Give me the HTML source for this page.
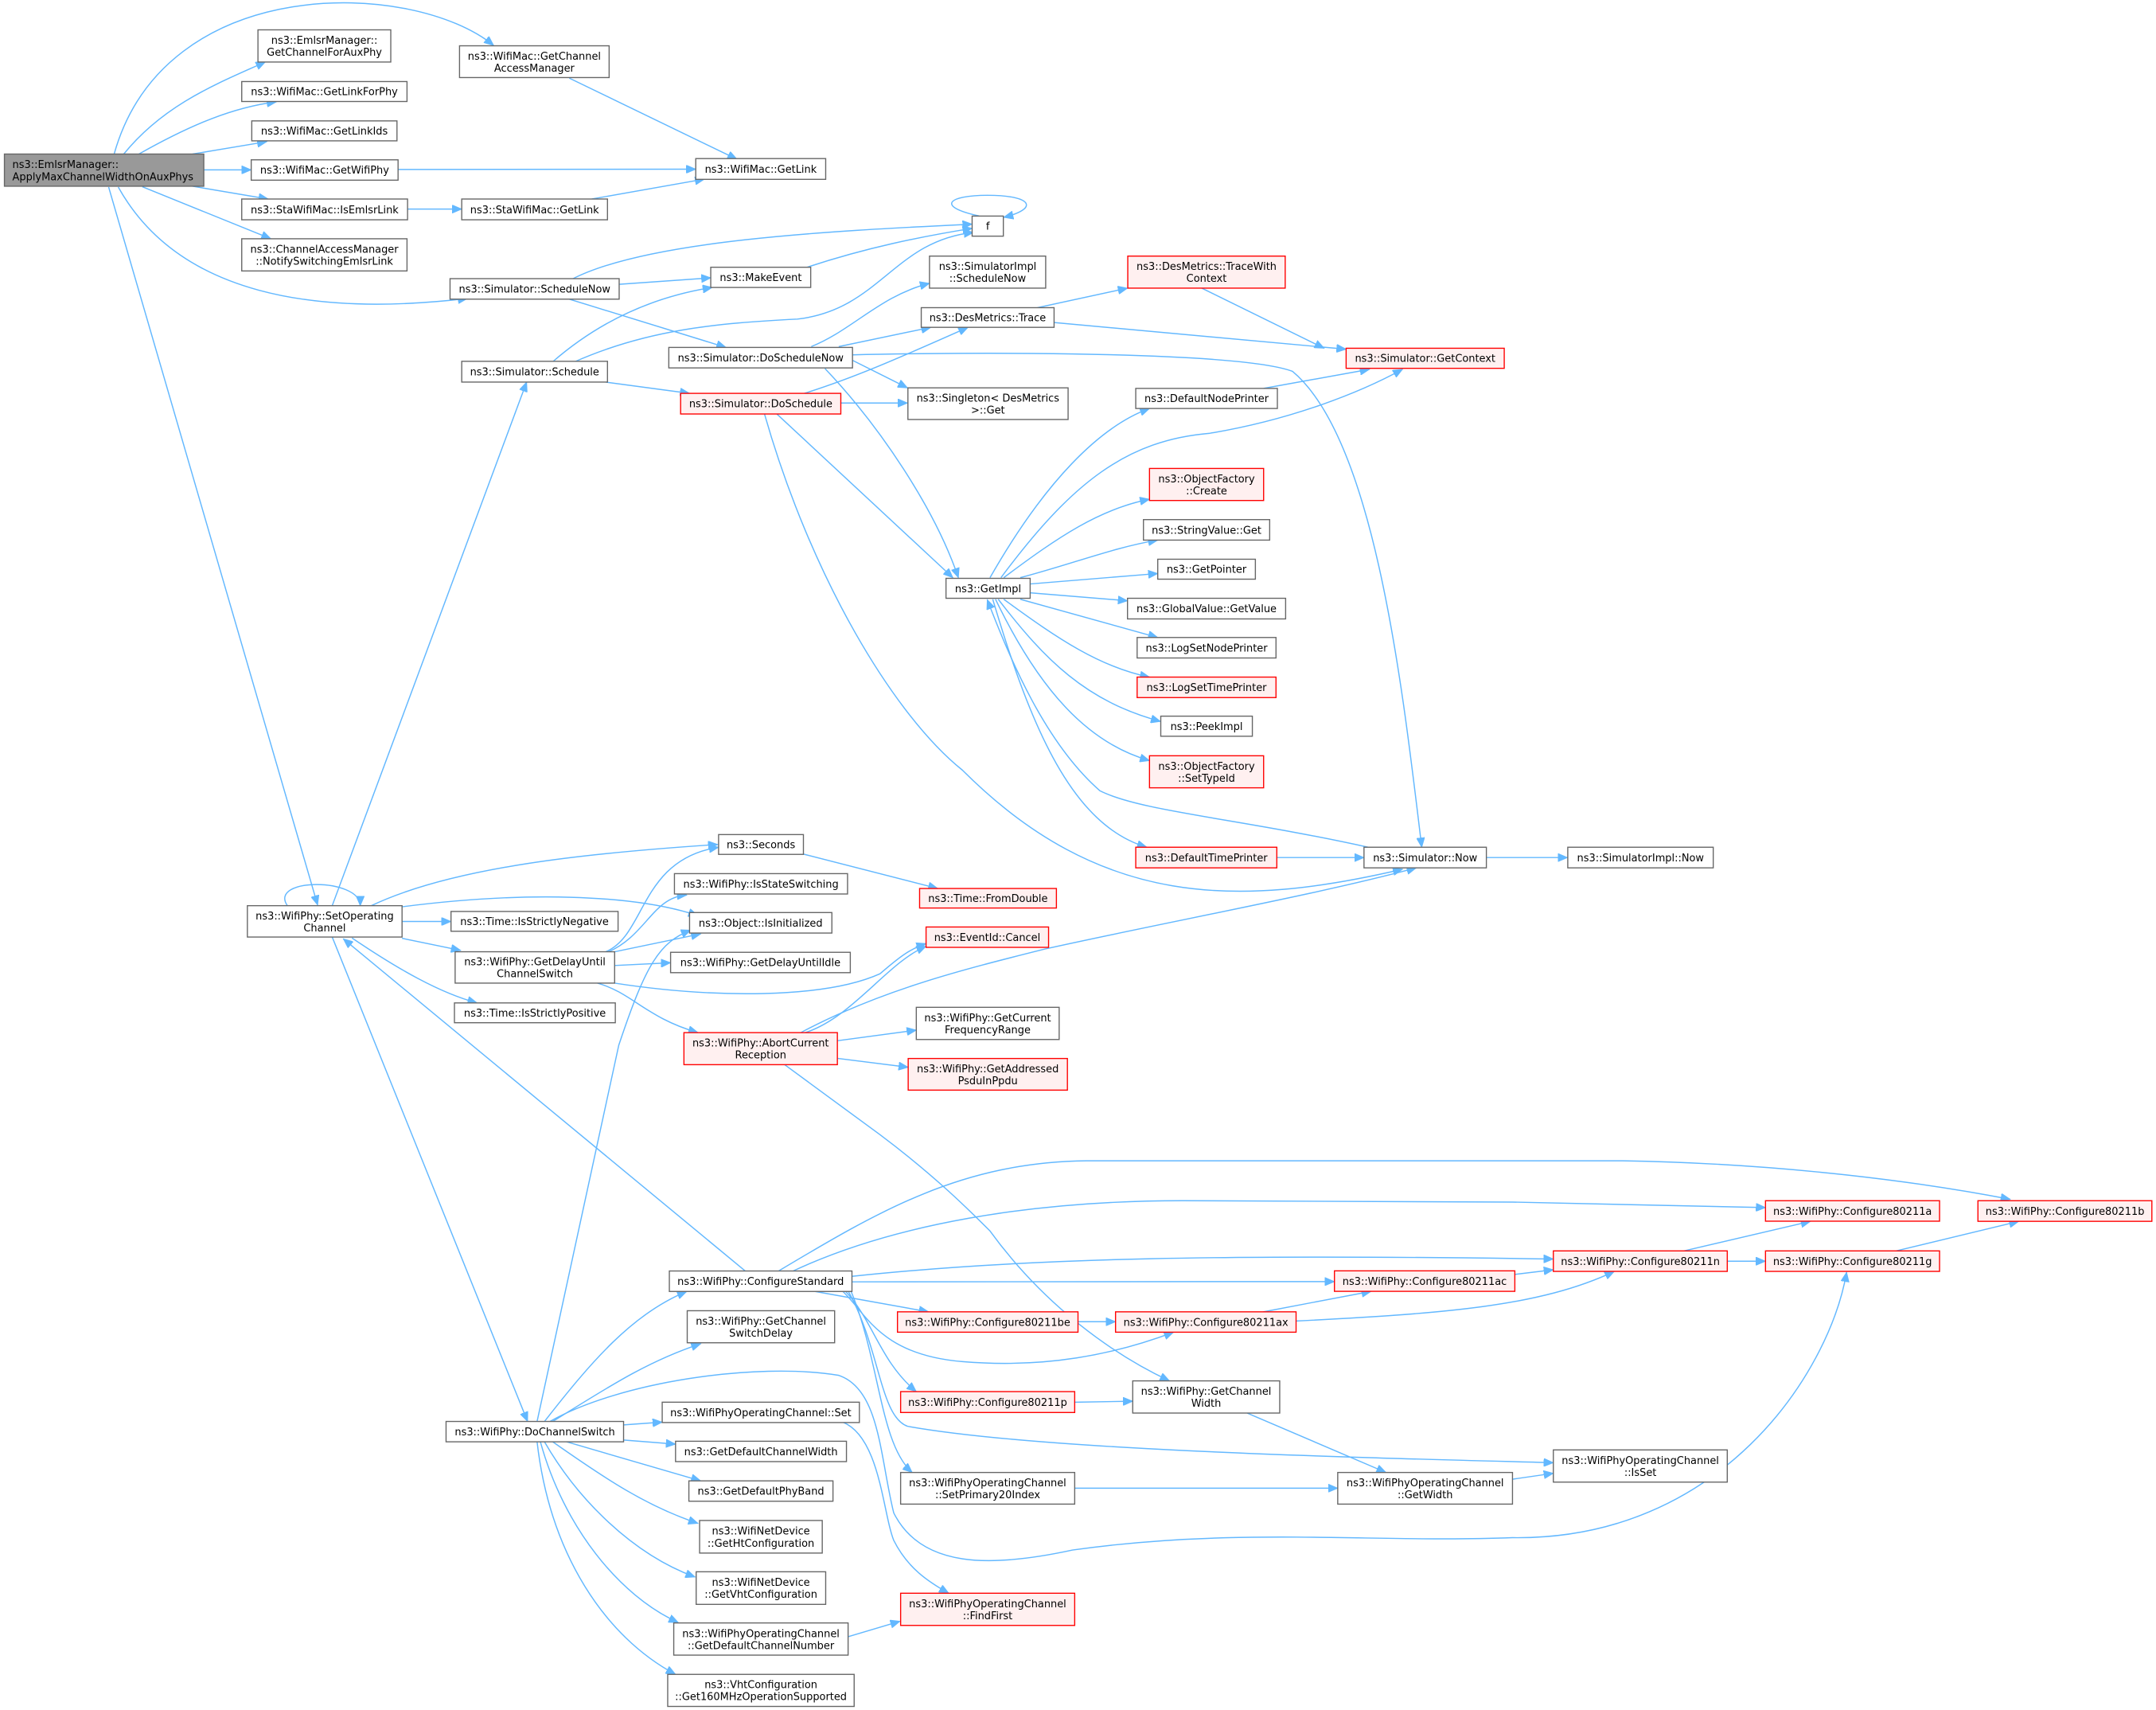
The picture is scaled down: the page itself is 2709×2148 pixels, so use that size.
<!DOCTYPE html>
<html><head><meta charset="utf-8"><style>
html,body{margin:0;padding:0;background:#fff;}
svg{display:block;}
text{font-family:"DejaVu Sans","Liberation Sans",sans-serif;font-size:7.5px;fill:#000;text-anchor:middle;}
.n{fill:#fff;stroke:#666;stroke-width:0.8;}
.r{fill:#fff0f0;stroke:#f00;stroke-width:0.8;}
.g{fill:#999;stroke:#666;stroke-width:0.8;}
path{fill:none;stroke:#63b8ff;stroke-width:0.85;marker-end:url(#a);}
</style></head><body>
<svg width="2709" height="2148" viewBox="0 0 1568 1243.3" xmlns="http://www.w3.org/2000/svg">
<defs><marker id="a" markerUnits="userSpaceOnUse" markerWidth="8" markerHeight="6" refX="7" refY="3" orient="auto"><path d="M0,0 L7,3 L0,6 z" style="fill:#63b8ff;stroke:#63b8ff;stroke-width:0.5;marker-end:none"/></marker></defs>

<!-- edges top -->
<path d="M83,112 C120,-20 300,-15 359,33"/>
<path d="M90,112 C120,75 160,60 193,45"/>
<path d="M101,112 C140,90 170,78 201,74"/>
<path d="M140,112 L194,103"/>
<path d="M148,123.5 L182.7,123.5"/>
<path d="M140,135.4 L195,144.7"/>
<path d="M103.5,135.8 L197,173.6"/>
<path d="M86,136 C130,215 230,230 340,217"/>
<path d="M79,136 L231,658"/>
<path d="M414,56.8 L536,115.8"/>
<path d="M289.5,123.2 L506,123"/>
<path d="M296.4,152 L335.8,152"/>
<path d="M430.4,144.7 L512.4,130.2"/>
<path d="M450.3,206.7 L517,202"/>
<path d="M416,203 C470,175 600,168 707,163"/>
<path d="M587,194.3 C630,180 670,172 707,166"/>
<path d="M414,217.5 L528,252.6"/>
<path d="M402,263 C440,230 480,215 518,209"/>
<path d="M418,263 C470,240 520,235 580,232 C640,225 650,175 708,169"/>
<path d="M440.5,277.8 L501.5,286"/>
<path d="M590,252 C620,240 640,215 676,206"/>
<path d="M610,252 L677,238"/>
<path d="M620,262 L660,282"/>
<path d="M600,268 C640,310 680,370 697,420"/>
<path d="M620,258 C700,256 900,255 940,270 C1000,320 1020,500 1034,616"/>
<path d="M585,286 C620,275 650,262 704,238"/>
<path d="M611,293 L660,293"/>
<path d="M565,301 L693,420"/>
<path d="M556,301 C590,420 650,520 700,560 C800,660 900,660 1020,632"/>
<path d="M712,157 C680,150 690,142 718,142 C752,142 755,152 730,158"/>
<path d="M874,209.5 L963,253.2"/>
<path d="M754.5,223.7 L820,209.5"/>
<path d="M766.6,234.5 L979,253.9"/>
<path d="M919,282.4 L996,268.5"/>
<path d="M728,420 C780,350 820,320 880,315 C940,305 990,285 1020,268.5"/>
<path d="M720,420 C760,350 800,310 836,297"/>
<path d="M730,420 C770,390 800,370 836,363"/>
<path d="M742,420 C780,410 810,398 842,392.7"/>
<path d="M749,424.6 L842,417"/>
<path d="M749,431 L820,436.8"/>
<path d="M742,435.7 L842,463.5"/>
<path d="M730,435.7 C770,465 800,485 836,492.3"/>
<path d="M726,435.7 C760,480 790,510 844,524.5"/>
<path d="M724,435.7 C755,500 790,540 836,553"/>
<path d="M722,435.7 C750,530 780,600 834,616"/>
<path d="M995,616 C900,595 830,590 800,575 C760,540 735,480 718,436"/>
<path d="M928.6,623.5 L992,623.5"/>
<path d="M1081,623.5 L1140,623.5"/>
<path d="M584.3,621 L682,646"/>

<!-- edges left-bottom -->
<path d="M209,658.5 C195,638 262,638 262,658.5"/>
<path d="M270,658.5 C330,630 430,620 522,614"/>
<path d="M292.4,659.3 C380,648 460,650 507.6,665.7"/>
<path d="M292.4,670 L328,670"/>
<path d="M292.4,682.2 L335,691"/>
<path d="M256,682 C290,705 320,722 347,729.2"/>
<path d="M241.6,658.5 L383,277.8"/>
<path d="M241.6,681.3 L383.7,1033.5"/>
<path d="M542,924.1 L249.7,682.6"/>
<path d="M440.5,692 C470,680 465,625 522.6,616"/>
<path d="M442.6,692 C470,680 475,652 499.4,650.8"/>
<path d="M447,692 L509.6,679"/>
<path d="M447,702 L487.7,700"/>
<path d="M447,714.8 C520,726 600,726 640,708 C655,695 662,690 673.5,686"/>
<path d="M434.5,714.8 C460,722 470,740 507.6,750.8"/>
<path d="M585,751 C620,740 645,700 673.5,688"/>
<path d="M582,751 C640,720 700,705 760,690 C850,670 960,650 1030,631"/>
<path d="M609,756.7 L666.4,749"/>
<path d="M609,769.5 L660.5,776"/>
<path d="M570.5,774 L640,825 C680,855 705,880 720,895 C760,950 810,985 850.5,1004"/>
<path d="M390.6,1033.5 L450,760 C470,700 480,685 502.3,676.3"/>
<path d="M396,1033.5 C430,990 460,955 499.4,939"/>
<path d="M402,1033.5 C440,1010 470,990 509.6,977"/>
<path d="M453.5,1036 L481.6,1034"/>
<path d="M453.5,1047 L491.3,1050"/>
<path d="M412,1048.3 L509.6,1076.7"/>
<path d="M402,1048.3 C440,1075 470,1095 507.6,1107.6"/>
<path d="M396,1048.3 C420,1090 460,1130 505.5,1146.6"/>
<path d="M393,1048.3 C410,1110 450,1160 493.3,1179.7"/>
<path d="M390.6,1048.3 C400,1130 440,1190 491.3,1217.4"/>
<path d="M400,1033.5 C450,1005 550,990 610,1000 C640,1010 640,1060 650,1100 C670,1140 720,1140 780,1127 C900,1110 1000,1122 1100,1118 C1250,1120 1330,1000 1343,925"/>
<path d="M613,1034 C640,1045 642,1100 650,1120 C660,1140 675,1150 690,1158.4"/>
<path d="M616.8,1190 L654.5,1178.8"/>

<!-- edges configure -->
<path d="M566.4,924 C640,880 700,845 790,844 L1180,844 C1300,846 1400,860 1462,872"/>
<path d="M577,924 C650,890 750,873 860,873 L1100,874 C1200,876 1250,877 1284,878"/>
<path d="M619.6,928 C750,914 900,912 1129.7,915.4"/>
<path d="M619.6,932 L970.5,931.8"/>
<path d="M592.8,939 L675.3,953.8"/>
<path d="M613,939 C630,955 640,985 700,990 C760,995 810,985 853.5,968.6"/>
<path d="M615,939 C635,960 640,990 666.4,1011.8"/>
<path d="M617,939 C640,980 640,1030 660,1037 C760,1055 1000,1060 1129.7,1063.5"/>
<path d="M619,939 C640,990 640,1050 663.4,1070.6"/>
<path d="M784,961 L811.3,961"/>
<path d="M918.8,953.8 L997.2,938.9"/>
<path d="M942.6,960.5 C1050,955 1120,950 1174,924.4"/>
<path d="M1101.7,926.6 L1129.7,923.2"/>
<path d="M1224.7,909.5 L1316.7,888"/>
<path d="M1256.2,917 L1284,917"/>
<path d="M1379,909.5 L1468.2,888"/>
<path d="M781.6,1019.5 L823.8,1018.8"/>
<path d="M907,1027.4 L1008,1070.6"/>
<path d="M781.6,1082 L972.9,1082"/>
<path d="M1100,1075.5 L1129.7,1071.2"/>

<!-- nodes -->
<rect class="g" x="3.2" y="112" width="145" height="23.4"/>
<text x="9" y="122" style="text-anchor:start">ns3::EmlsrManager::</text>
<text x="9" y="131" style="text-anchor:start">ApplyMaxChannelWidthOnAuxPhys</text>

<rect class="n" x="187.6" y="21.7" width="96.6" height="23.4"/><text x="235.9" y="31.9">ns3::EmlsrManager::</text><text x="235.9" y="40.6">GetChannelForAuxPhy</text>
<rect class="n" x="175.8" y="59.3" width="120.2" height="14.5"/><text x="235.9" y="69.3">ns3::WifiMac::GetLinkForPhy</text>
<rect class="n" x="183.1" y="87.9" width="105.6" height="14.5"/><text x="235.9" y="97.9">ns3::WifiMac::GetLinkIds</text>
<rect class="n" x="182.7" y="116.2" width="106.8" height="14.8"/><text x="236.1" y="126.3">ns3::WifiMac::GetWifiPhy</text>
<rect class="n" x="175.8" y="144.7" width="120.6" height="15.1"/><text x="236.1" y="155">ns3::StaWifiMac::IsEmlsrLink</text>
<rect class="n" x="175.8" y="173.6" width="120.2" height="23.4"/><text x="235.9" y="183.8">ns3::ChannelAccessManager</text><text x="235.9" y="192.5">::NotifySwitchingEmlsrLink</text>
<rect class="n" x="334.2" y="33.3" width="108.8" height="23.1"/><text x="388.6" y="43.3">ns3::WifiMac::GetChannel</text><text x="388.6" y="52">AccessManager</text>
<rect class="n" x="506" y="115.3" width="94.5" height="15.1"/><text x="553.3" y="125.6">ns3::WifiMac::GetLink</text>
<rect class="n" x="335.8" y="144.7" width="106" height="15.1"/><text x="388.8" y="155">ns3::StaWifiMac::GetLink</text>
<rect class="n" x="327.3" y="202.6" width="123" height="14.9"/><text x="388.8" y="212.8">ns3::Simulator::ScheduleNow</text>
<rect class="n" x="516.9" y="194.3" width="72.7" height="14.7"/><text x="553.3" y="204.4">ns3::MakeEvent</text>
<rect class="n" x="335.8" y="262.7" width="106" height="15.1"/><text x="388.8" y="273">ns3::Simulator::Schedule</text>
<rect class="n" x="486.4" y="252.6" width="133.6" height="14.9"/><text x="553.2" y="262.8">ns3::Simulator::DoScheduleNow</text>
<rect class="r" x="495" y="286" width="116.5" height="15"/><text x="553.3" y="296.2">ns3::Simulator::DoSchedule</text>

<rect class="n" x="707" y="157.1" width="22.7" height="14.6"/><text x="718.4" y="167.1">f</text>
<rect class="n" x="676" y="186.2" width="84.5" height="23.3"/><text x="718.3" y="196.3">ns3::SimulatorImpl</text><text x="718.3" y="205">::ScheduleNow</text>
<rect class="r" x="820.2" y="186.2" width="114.5" height="23.3"/><text x="877.5" y="196.3">ns3::DesMetrics::TraceWith</text><text x="877.5" y="205">Context</text>
<rect class="n" x="670" y="223.7" width="96.6" height="14.3"/><text x="718.3" y="233.6">ns3::DesMetrics::Trace</text>
<rect class="r" x="979" y="253.2" width="115" height="14.6"/><text x="1036.5" y="263.2">ns3::Simulator::GetContext</text>
<rect class="n" x="660.3" y="282" width="116.5" height="23"/><text x="718.5" y="292">ns3::Singleton&lt; DesMetrics</text><text x="718.5" y="300.7">&gt;::Get</text>
<rect class="n" x="826" y="282.4" width="103" height="14.6"/><text x="877.5" y="292.4">ns3::DefaultNodePrinter</text>
<rect class="r" x="836" y="340.6" width="83" height="23.3"/><text x="877.5" y="350.7">ns3::ObjectFactory</text><text x="877.5" y="359.4">::Create</text>
<rect class="n" x="831.6" y="377.8" width="91.8" height="14.9"/><text x="877.5" y="388">ns3::StringValue::Get</text>
<rect class="n" x="842" y="406.6" width="71" height="14.5"/><text x="877.5" y="416.6">ns3::GetPointer</text>
<rect class="n" x="820" y="435" width="115" height="15"/><text x="877.5" y="445.2">ns3::GlobalValue::GetValue</text>
<rect class="n" x="827" y="463.5" width="101" height="14.9"/><text x="877.5" y="473.7">ns3::LogSetNodePrinter</text>
<rect class="r" x="827" y="492.3" width="101" height="14.9"/><text x="877.5" y="502.5">ns3::LogSetTimePrinter</text>
<rect class="n" x="844.2" y="520.7" width="66.6" height="14.6"/><text x="877.5" y="530.7">ns3::PeekImpl</text>
<rect class="r" x="836" y="549.5" width="83" height="23.3"/><text x="877.5" y="559.6">ns3::ObjectFactory</text><text x="877.5" y="568.3">::SetTypeId</text>
<rect class="r" x="826" y="616" width="102.6" height="15"/><text x="877.3" y="626.2">ns3::DefaultTimePrinter</text>
<rect class="n" x="992" y="616" width="89" height="15"/><text x="1036.5" y="626.2">ns3::Simulator::Now</text>
<rect class="n" x="1140.2" y="616" width="105.8" height="15"/><text x="1193.1" y="626.2">ns3::SimulatorImpl::Now</text>
<rect class="n" x="688" y="420.5" width="61.2" height="14.5"/><text x="718.6" y="430.5">ns3::GetImpl</text>
<rect class="r" x="668.8" y="646" width="99.5" height="14.2"/><text x="718.5" y="655.8">ns3::Time::FromDouble</text>

<rect class="n" x="179.9" y="658.5" width="112.5" height="22.8"/><text x="236.1" y="668.4">ns3::WifiPhy::SetOperating</text><text x="236.1" y="677.1">Channel</text>
<rect class="n" x="522.6" y="606.8" width="61.7" height="14.4"/><text x="553.4" y="616.7">ns3::Seconds</text>
<rect class="n" x="490.5" y="635.2" width="125.9" height="14.8"/><text x="553.4" y="645.3">ns3::WifiPhy::IsStateSwitching</text>
<rect class="n" x="501.5" y="663.5" width="103.5" height="14.9"/><text x="553.2" y="673.7">ns3::Object::IsInitialized</text>
<rect class="n" x="328" y="662.7" width="121.5" height="14.4"/><text x="388.7" y="672.6">ns3::Time::IsStrictlyNegative</text>
<rect class="n" x="331" y="692" width="116" height="22.8"/><text x="389" y="701.9">ns3::WifiPhy::GetDelayUntil</text><text x="389" y="710.6">ChannelSwitch</text>
<rect class="n" x="487.7" y="692.4" width="130.7" height="14.8"/><text x="553" y="702.5">ns3::WifiPhy::GetDelayUntilIdle</text>
<rect class="n" x="330.5" y="729.2" width="117" height="14.4"/><text x="389" y="739.1">ns3::Time::IsStrictlyPositive</text>
<rect class="r" x="497.4" y="750.8" width="111.6" height="23.3"/><text x="553.2" y="760.9">ns3::WifiPhy::AbortCurrent</text><text x="553.2" y="769.6">Reception</text>
<rect class="r" x="673.5" y="674" width="89.1" height="14.8"/><text x="718" y="684.1">ns3::EventId::Cancel</text>
<rect class="n" x="666.4" y="732.4" width="103.9" height="23.4"/><text x="718.3" y="742.6">ns3::WifiPhy::GetCurrent</text><text x="718.3" y="751.3">FrequencyRange</text>
<rect class="r" x="660.5" y="769.6" width="115.8" height="23"/><text x="718.4" y="779.6">ns3::WifiPhy::GetAddressed</text><text x="718.4" y="788.3">PsduInPpdu</text>

<rect class="n" x="486.8" y="924.1" width="132.8" height="14.9"/><text x="553.2" y="934.3">ns3::WifiPhy::ConfigureStandard</text>
<rect class="n" x="499.8" y="953" width="107.2" height="23.3"/><text x="553.4" y="963.1">ns3::WifiPhy::GetChannel</text><text x="553.4" y="971.8">SwitchDelay</text>
<rect class="n" x="481.6" y="1019.5" width="143.4" height="14.8"/><text x="553.3" y="1029.6">ns3::WifiPhyOperatingChannel::Set</text>
<rect class="n" x="324.4" y="1033.5" width="129.1" height="14.8"/><text x="389" y="1043.6">ns3::WifiPhy::DoChannelSwitch</text>
<rect class="n" x="491.3" y="1047.9" width="124.3" height="14.8"/><text x="553.4" y="1058">ns3::GetDefaultChannelWidth</text>
<rect class="n" x="501" y="1076.7" width="104.8" height="14.8"/><text x="553.4" y="1086.8">ns3::GetDefaultPhyBand</text>
<rect class="n" x="508.8" y="1105.5" width="89.2" height="23.7"/><text x="553.4" y="1115.8">ns3::WifiNetDevice</text><text x="553.4" y="1124.5">::GetHtConfiguration</text>
<rect class="n" x="506.3" y="1142.8" width="94.2" height="23.7"/><text x="553.4" y="1153.1">ns3::WifiNetDevice</text><text x="553.4" y="1161.8">::GetVhtConfiguration</text>
<rect class="n" x="490" y="1180" width="126.8" height="23.4"/><text x="553.4" y="1190.2">ns3::WifiPhyOperatingChannel</text><text x="553.4" y="1198.9">::GetDefaultChannelNumber</text>
<rect class="n" x="485.6" y="1217.4" width="135.6" height="23.3"/><text x="553.4" y="1227.5">ns3::VhtConfiguration</text><text x="553.4" y="1236.2">::Get160MHzOperationSupported</text>

<rect class="r" x="1284" y="873" width="126.6" height="14.9"/><text x="1347.3" y="883.2">ns3::WifiPhy::Configure80211a</text>
<rect class="r" x="1438.5" y="873" width="126.5" height="15"/><text x="1501.8" y="883.2">ns3::WifiPhy::Configure80211b</text>
<rect class="r" x="1129.7" y="909.5" width="126.5" height="14.9"/><text x="1193" y="919.7">ns3::WifiPhy::Configure80211n</text>
<rect class="r" x="1284" y="909.5" width="126.6" height="14.9"/><text x="1347.3" y="919.7">ns3::WifiPhy::Configure80211g</text>
<rect class="r" x="970.5" y="924" width="131.2" height="14.9"/><text x="1036.1" y="934.2">ns3::WifiPhy::Configure80211ac</text>
<rect class="r" x="652.7" y="953.8" width="131.3" height="14.8"/><text x="718.3" y="963.9">ns3::WifiPhy::Configure80211be</text>
<rect class="r" x="811.3" y="953.8" width="131.3" height="14.8"/><text x="877" y="963.9">ns3::WifiPhy::Configure80211ax</text>
<rect class="r" x="655" y="1011.8" width="126.6" height="15.2"/><text x="718.3" y="1022.1">ns3::WifiPhy::Configure80211p</text>
<rect class="n" x="823.8" y="1004" width="106.9" height="23.4"/><text x="877.2" y="1014.2">ns3::WifiPhy::GetChannel</text><text x="877.2" y="1022.9">Width</text>
<rect class="n" x="1129.7" y="1054.2" width="126.5" height="23.4"/><text x="1193" y="1064.4">ns3::WifiPhyOperatingChannel</text><text x="1193" y="1073.1">::IsSet</text>
<rect class="n" x="655" y="1070.6" width="126.6" height="23"/><text x="718.3" y="1080.6">ns3::WifiPhyOperatingChannel</text><text x="718.3" y="1089.3">::SetPrimary20Index</text>
<rect class="n" x="972.9" y="1070.6" width="127.1" height="23"/><text x="1036.5" y="1080.6">ns3::WifiPhyOperatingChannel</text><text x="1036.5" y="1089.3">::GetWidth</text>
<rect class="r" x="655" y="1158.4" width="126.6" height="23.4"/><text x="718.3" y="1168.6">ns3::WifiPhyOperatingChannel</text><text x="718.3" y="1177.3">::FindFirst</text>
</svg>
</body></html>
